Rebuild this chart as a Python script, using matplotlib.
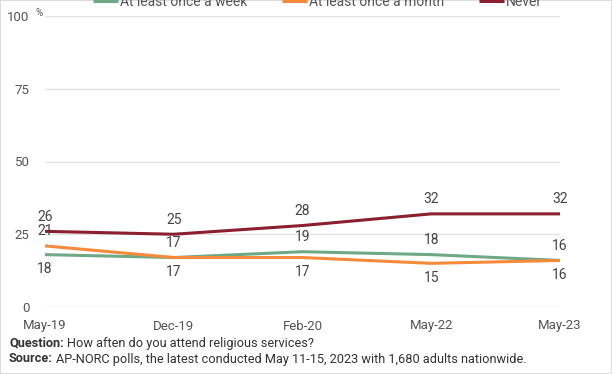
import matplotlib.pyplot as plt
from matplotlib.patches import Rectangle

plt.rcParams['font.family'] = ['Roboto', 'DejaVu Sans']

periods = ['May-19', 'Dec-19', 'Feb-20', 'May-22', 'May-23']
weekly = [18, 17, 19, 18, 16]
monthly = [21, 17, 17, 15, 16]
never = [26, 25, 28, 32, 32]

# label placement per point: +1 above, -1 below
weekly_side = [-1, 1, 1, 1, 1]
monthly_side = [1, -1, -1, -1, -1]
never_side = [1, 1, 1, 1, 1]

GREEN = '#6fa887'
ORANGE = '#f58a3b'
RED = '#8c1f2f'
TEXT = '#444444'

fig = plt.figure(figsize=(6.12, 3.74), dpi=100)
ax = fig.add_axes([45 / 612, 67 / 374, 515 / 612, 291 / 374])

x = range(len(periods))
series = [
    ('At least once a week', weekly, weekly_side, GREEN),
    ('At least once a month', monthly, monthly_side, ORANGE),
    ('Never', never, never_side, RED),
]
for name, vals, sides, color in series:
    ax.plot(x, vals, color=color, lw=2.2, label=name, solid_capstyle='butt')
    for xi, v, s in zip(x, vals, sides):
        ax.annotate(str(v), (xi, v), xytext=(0, 10.5 * s), textcoords='offset points',
                    ha='center', va='center', fontsize=10, color=TEXT)

ax.set_xlim(0, len(periods) - 1)
ax.set_ylim(0, 100)
ax.set_yticks([0, 25, 50, 75, 100])
ax.set_xticks(list(x))
ax.set_xticklabels(periods)
ax.grid(axis='y', color='#e3e3e3', lw=1)
ax.set_axisbelow(True)
for sp in ax.spines.values():
    sp.set_visible(False)
ax.tick_params(length=0, labelsize=9.5, labelcolor='#555555')
ax.tick_params(axis='y', pad=11)
ax.tick_params(axis='x', pad=9)

# small percent sign after the 100 label
ax.annotate('%', (0, 100), xytext=(-7, 2), textcoords='offset points',
            ha='left', va='center', fontsize=7, color='#555555',
            annotation_clip=False)

fig.legend(loc='center', bbox_to_anchor=(0.519, 0.995), ncol=3, frameon=False,
           fontsize=10, labelcolor='#555555', handlelength=1.8, handletextpad=0.15,
           columnspacing=2.5)

q = fig.text(9 / 612, 1 - 343 / 374, 'Question:', fontsize=9.2, fontweight='bold',
             color='#333333', va='center')
s = fig.text(9 / 612, 1 - 359 / 374, 'Source:', fontsize=9.2, fontweight='bold',
             color='#333333', va='center')

fig.canvas.draw()
r = fig.canvas.get_renderer()
qb = q.get_window_extent(r)
sb = s.get_window_extent(r)
fig.text((qb.x1 + 3) / fig.bbox.width, 1 - 343 / 374,
         'How aften do you attend religious services?',
         fontsize=9.2, color='#333333', va='center')
fig.text((sb.x1 + 3) / fig.bbox.width, 1 - 359 / 374,
         'AP-NORC polls, the latest conducted May 11-15, 2023 with 1,680 adults nationwide.',
         fontsize=9.2, color='#333333', va='center')

fig.add_artist(Rectangle((0, 0), 1, 1, transform=fig.transFigure, fill=False,
                         edgecolor='#dddddd', lw=1.5))

fig.savefig('out.png', dpi=100)
